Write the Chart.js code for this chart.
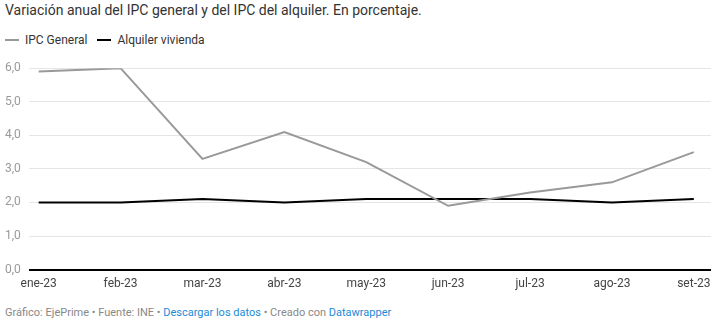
<!DOCTYPE html>
<html>
<head>
<meta charset="utf-8">
<script src="https://cdn.jsdelivr.net/npm/chart.js@4/dist/chart.umd.min.js"></script>
<style>
  body { margin: 0; background: #fff; font-family: Roboto, sans-serif; }
  #wrap { position: relative; width: 719px; height: 330px; }
  h1 { position: absolute; left: 5px; top: 1px; margin: 0; font-size: 14px; font-weight: 400; color: #333; line-height: 18px; }
  .legend { position: absolute; left: 5px; top: 32px; font-size: 12px; color: #333; line-height: 16px; white-space: nowrap; }
  .legend span.item { display: inline-block; margin-right: 10px; }
  .legend i { display: inline-block; width: 14px; height: 2px; vertical-align: middle; margin-right: 6px; position: relative; top: -1px; }
  #chart-box { position: absolute; left: 0; top: 57px; width: 719px; height: 241px; }
  .foot { position: absolute; left: 5px; top: 306px; font-size: 11px; color: #888; }
  .foot a { color: #1d8ad6; text-decoration: none; }
</style>
</head>
<body>
<div id="wrap">
  <h1>Variación anual del IPC general y del IPC del alquiler. En porcentaje.</h1>
  <div class="legend" id="legend"></div>
  <div id="chart-box"><canvas id="chart1"></canvas></div>
  <div class="foot">Gráfico: EjePrime • Fuente: INE • <a href="#">Descargar los datos</a> • Creado con <a href="#">Datawrapper</a></div>
</div>
<script>
Chart.defaults.font.family = 'Roboto, sans-serif'
Chart.defaults.font.size = 12

const months = ['ene-23', 'feb-23', 'mar-23', 'abr-23', 'may-23', 'jun-23', 'jul-23', 'ago-23', 'set-23']
const ipcGeneral = [5.9, 6.0, 3.3, 4.1, 3.2, 1.9, 2.3, 2.6, 3.5]
const alquiler = [2.0, 2.0, 2.1, 2.0, 2.1, 2.1, 2.1, 2.0, 2.1]
const yTicks = [0, 1, 2, 3, 4, 5, 6]

const toPoints = values => values.map((v, i) => ({ x: i, y: v }))

const data = {
    datasets: [
        {
            label: 'IPC General',
            data: toPoints(ipcGeneral),
            borderColor: '#999999',
            borderWidth: 2,
            pointRadius: 0,
            tension: 0
        },
        {
            label: 'Alquiler vivienda',
            data: toPoints(alquiler),
            borderColor: '#000000',
            borderWidth: 2,
            pointRadius: 0,
            tension: 0
        }
    ]
}

// legend built from the datasets
document.getElementById('legend').innerHTML = data.datasets
    .map(ds => `<span class="item"><i style="background:${ds.borderColor}"></i>${ds.label}</span>`)
    .join('')

const options = {
    responsive: true,
    maintainAspectRatio: false,
    animation: false,
    layout: { padding: { left: 5, right: 8, top: 0, bottom: 0 } },
    plugins: {
        legend: { display: false },
        tooltip: { enabled: false }
    },
    scales: {
        x: {
            type: 'linear',
            min: -0.12,
            max: 8.21,
            afterBuildTicks: axis => { axis.ticks = months.map((m, i) => ({ value: i })) },
            ticks: {
                callback: (v) => months[v],
                color: '#444',
                padding: 7,
                maxRotation: 0,
                autoSkip: false
            },
            grid: { display: false, drawTicks: false },
            border: { display: false }
        },
        y: {
            min: 0,
            max: 6,
            afterBuildTicks: axis => { axis.ticks = yTicks.map(v => ({ value: v })) },
            ticks: {
                callback: v => v.toFixed(1).replace('.', ','),
                color: '#999',
                padding: 4,
                crossAlign: 'far'
            },
            grid: {
                drawTicks: false,
                color: ctx => ctx.tick && ctx.tick.value === 0 ? '#000' : '#e5e5e5',
                lineWidth: ctx => ctx.tick && ctx.tick.value === 0 ? 2 : 1
            },
            border: { display: false }
        }
    }
}

new Chart('chart1', { type: 'line', data, options })
</script>
</body>
</html>
